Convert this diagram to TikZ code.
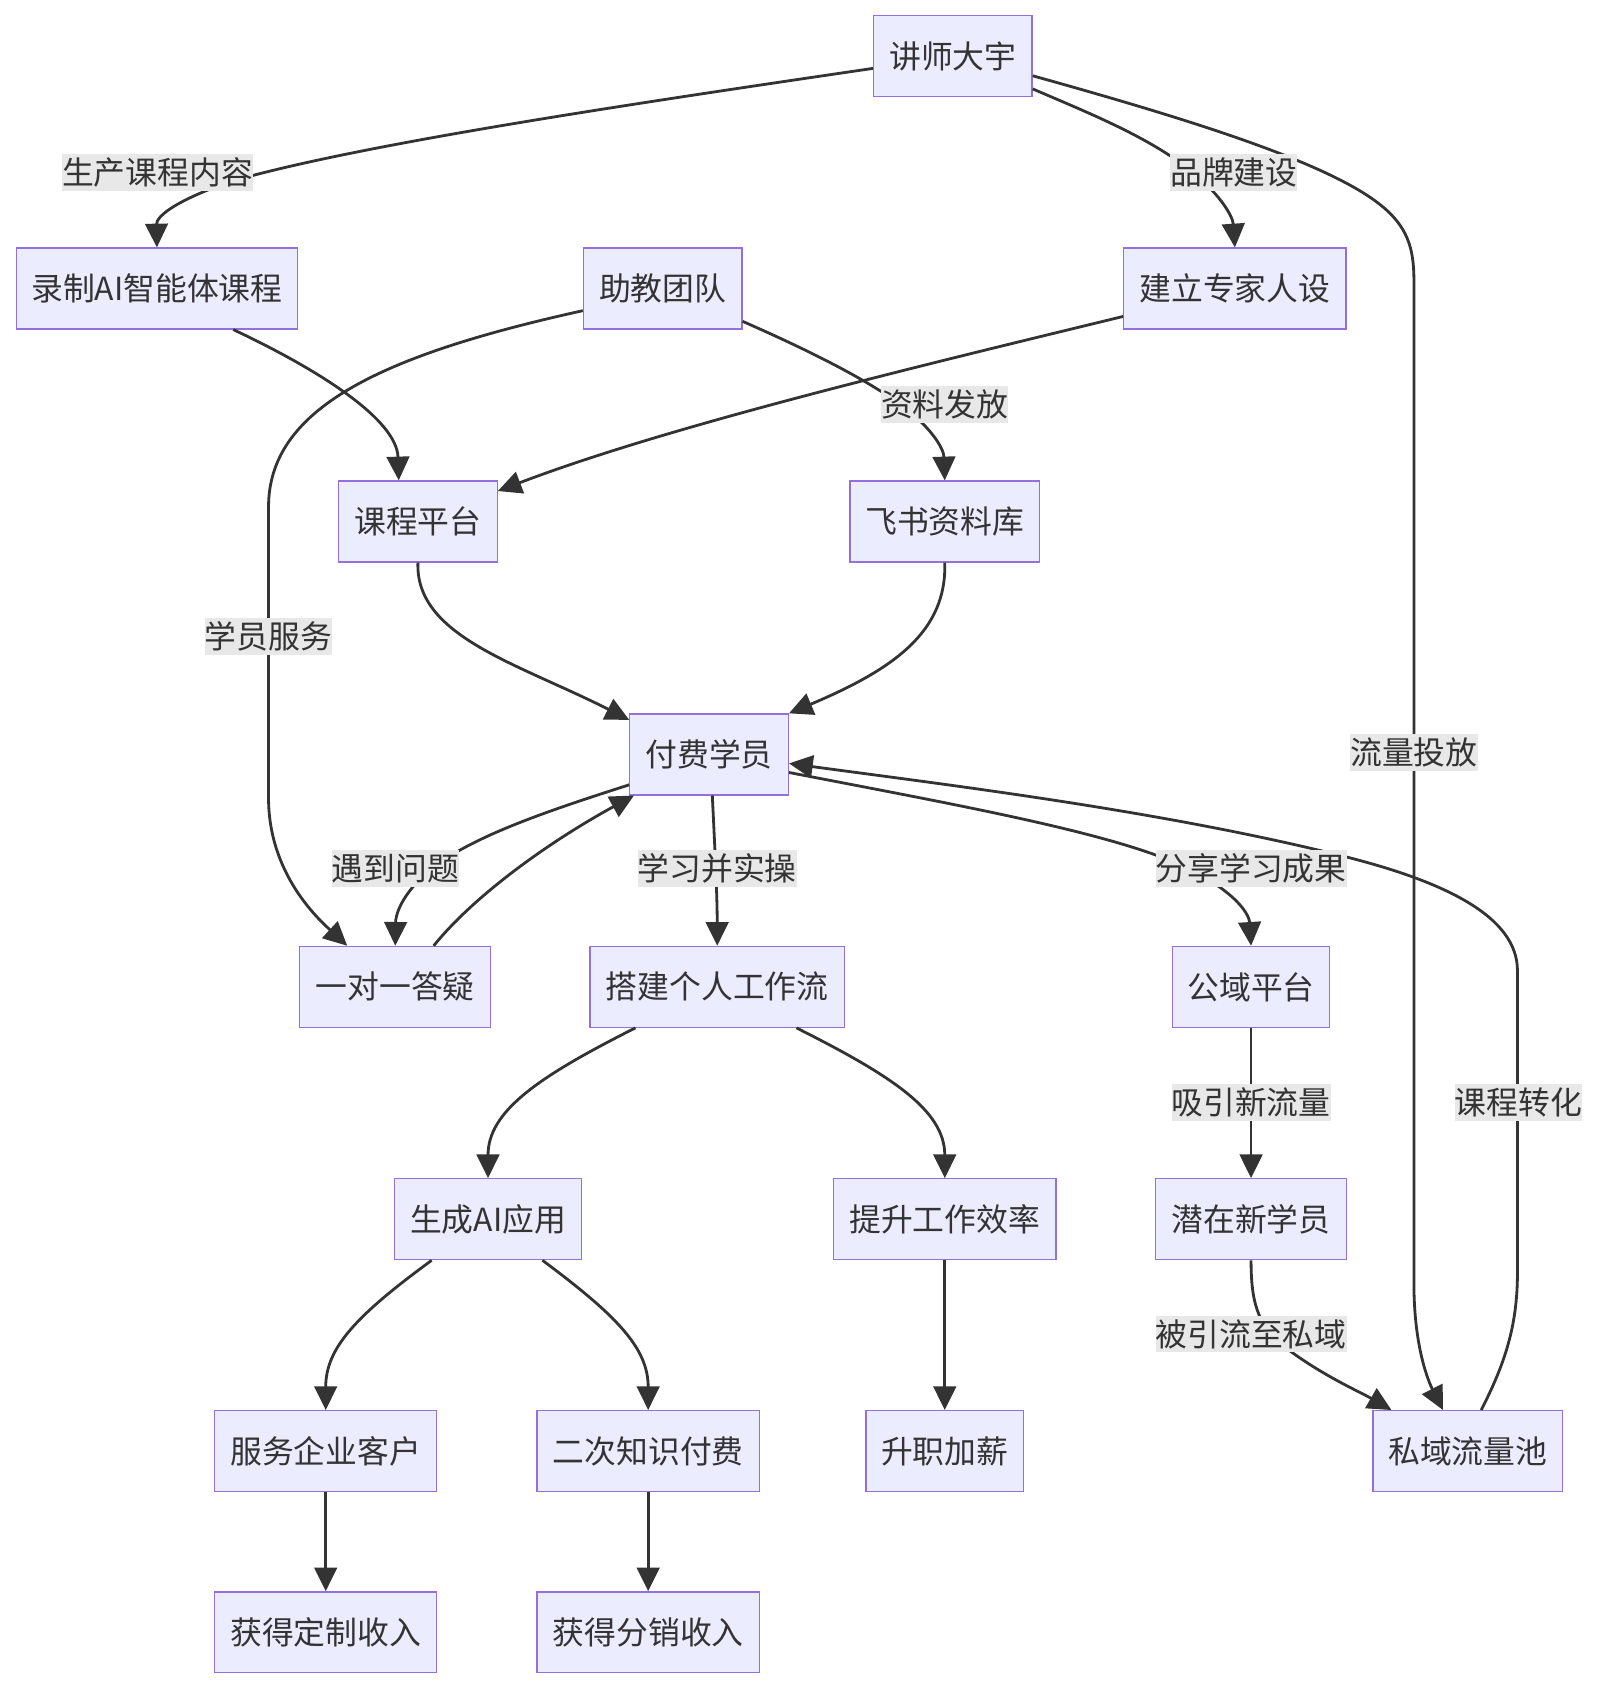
\documentclass[tikz,border=0pt]{standalone}
\usepackage{fontspec}
\setmainfont{Noto Sans CJK SC}
\usetikzlibrary{arrows.meta,calc}
\definecolor{nfill}{HTML}{ECECFF}
\definecolor{nline}{HTML}{9370DB}
\definecolor{ecol}{HTML}{333333}
\definecolor{lbg}{HTML}{E8E8E8}
\newcommand{\dgfont}{\fontsize{14.75}{17}\selectfont}
\begin{document}
\begin{tikzpicture}[x=0.5pt,y=-0.5pt,
  box/.style={draw=nline, fill=nfill, line width=0.6pt, minimum height=37.5pt, inner sep=0pt, text=ecol, font=\dgfont},
  lbl/.style={fill=lbg, inner sep=0pt, minimum height=17pt, text=ecol, font=\dgfont},
  conn/.style={draw=ecol, line width=1.3pt, -{Triangle[length=11pt,width=10.5pt]}},
  plain/.style={draw=ecol, line width=1.3pt}
]
\useasboundingbox (0,0) rectangle (1483,1567);

% nodes
\node[box,minimum width=73.5pt] (A) at (883.5,52) {讲师大宇};
\node[box,minimum width=130.5pt] (B) at (145.5,267.5) {录制AI智能体课程};
\node[box,minimum width=73.5pt] (C) at (614.5,267.5) {助教团队};
\node[box,minimum width=103pt] (D) at (1145,267.5) {建立专家人设};
\node[box,minimum width=73.5pt] (E) at (387.5,483.5) {课程平台};
\node[box,minimum width=88pt] (F) at (876,483.5) {飞书资料库};
\node[box,minimum width=73.5pt] (G) at (657.5,699.5) {付费学员};
\node[box,minimum width=88.5pt] (H) at (366.5,915) {一对一答疑};
\node[box,minimum width=118pt] (I) at (665,915) {搭建个人工作流};
\node[box,minimum width=73pt] (J) at (1160,915) {公域平台};
\node[box,minimum width=86.5pt] (K) at (452.5,1130.5) {生成AI应用};
\node[box,minimum width=103pt] (L) at (876,1130.5) {提升工作效率};
\node[box,minimum width=88.5pt] (M) at (1160,1130.5) {潜在新学员};
\node[box,minimum width=103pt] (N) at (302,1345.5) {服务企业客户};
\node[box,minimum width=103pt] (O) at (601,1345.5) {二次知识付费};
\node[box,minimum width=73pt] (P) at (876,1345.5) {升职加薪};
\node[box,minimum width=88pt] (Q) at (1361,1345.5) {私域流量池};
\node[box,minimum width=103pt] (R) at (302,1513.5) {获得定制收入};
\node[box,minimum width=103pt] (S) at (601,1513.5) {获得分销收入};

% edges
\draw[conn] ($(A.north west)!0.65!(A.south west)$) .. controls (560,100) and (330,135) .. (215,168) .. controls (165,185) and (145,200) .. (B.north);
\draw[conn] ($(A.north east)!0.9!(A.south east)$) .. controls (1010,105) and (1060,125) .. (1100,155) .. controls (1130,178) and (1143,200) .. (D.north);
\draw[conn] ($(A.north east)!0.74!(A.south east)$) .. controls (1100,110) and (1230,150) .. (1280,190) .. controls (1305,210) and (1311,230) .. (1311,260) -- (1311,1190) .. controls (1311,1250) and (1325,1282) .. ($(Q.north west)!0.37!(Q.north east)$);
\draw[conn] ($(B.south west)!0.77!(B.south east)$) .. controls (300,345) and (368,390) .. ($(E.north west)!0.38!(E.north east)$);
\draw[conn] ($(C.north west)!0.77!(C.south west)$) .. controls (350,330) and (249,380) .. (249,470) -- (249,740) .. controls (249,810) and (295,852) .. ($(H.north west)!0.25!(H.north east)$);
\draw[conn] ($(C.north east)!0.9!(C.south east)$) .. controls (750,325) and (800,350) .. (835,375) .. controls (862,395) and (875,415) .. (F.north);
\draw[conn] ($(D.north west)!0.84!(D.south west)$) .. controls (850,340) and (620,395) .. ($(E.north east)!0.13!(E.south east)$);
\draw[conn] (E.south) .. controls (385,590) and (480,615) .. ($(G.north west)!0.08!(G.south west)$);
\draw[conn] (F.south) .. controls (878,585) and (830,620) .. (G.north east);
\draw[conn] ($(G.north west)!0.87!(G.south west)$) .. controls (520,748) and (460,768) .. (420,792) .. controls (385,812) and (367,840) .. (H.north);
\draw[conn] ($(H.north west)!0.70!(H.north east)$) .. controls (440,830) and (510,780) .. ($(G.south west)!0.03!(G.south east)$);
\draw[conn] ($(G.south west)!0.52!(G.south east)$) .. controls (663,790) and (665,830) .. (I.north);
\draw[conn] ($(G.north east)!0.72!(G.south east)$) .. controls (880,745) and (1020,770) .. (1090,800) .. controls (1140,822) and (1158,845) .. (J.north);
\draw[conn] (J.south) -- (M.north);
\draw[conn] (M.south) .. controls (1160,1205) and (1165,1228) .. (1190,1248) .. controls (1225,1275) and (1260,1290) .. ($(Q.north west)!0.1!(Q.north east)$);
\draw[conn] ($(Q.north west)!0.57!(Q.north east)$) .. controls (1395,1265) and (1407,1230) .. (1407,1180) -- (1407,900) .. controls (1407,850) and (1340,818) .. (1250,795) .. controls (1080,752) and (880,728) .. ($(G.north east)!0.61!(G.south east)$);
\draw[conn] ($(I.south west)!0.18!(I.south east)$) .. controls (500,998) and (452.5,1030) .. (K.north);
\draw[conn] ($(I.south west)!0.81!(I.south east)$) .. controls (828,998) and (876,1030) .. (L.north);
\draw[conn] ($(K.south west)!0.2!(K.south east)$) .. controls (330,1220) and (302,1250) .. (N.north);
\draw[conn] ($(K.south west)!0.79!(K.south east)$) .. controls (572,1220) and (601,1250) .. (O.north);
\draw[conn] (L.south) -- (P.north);
\draw[conn] (N.south) -- (R.north);
\draw[conn] (O.south) -- (S.north);

% edge labels
\node[lbl] (l1) at (146,160) {生产课程内容};
\node[lbl] (l2) at (1144,160) {品牌建设};
\node[lbl] (l3) at (876,375) {资料发放};
\node[lbl] (l4) at (249,590) {学员服务};
\node[lbl] (l5) at (1311,698) {流量投放};
\node[lbl] (l6) at (366.5,805) {遇到问题};
\node[lbl] (l7) at (665,805) {学习并实操};
\node[lbl] (l8) at (1160,805) {分享学习成果};
\node[lbl] (l9) at (1160,1022) {吸引新流量};
\node[lbl] (l10) at (1408,1022) {课程转化};
\node[lbl] (l11) at (1160,1237) {被引流至私域};
\end{tikzpicture}
\end{document}
